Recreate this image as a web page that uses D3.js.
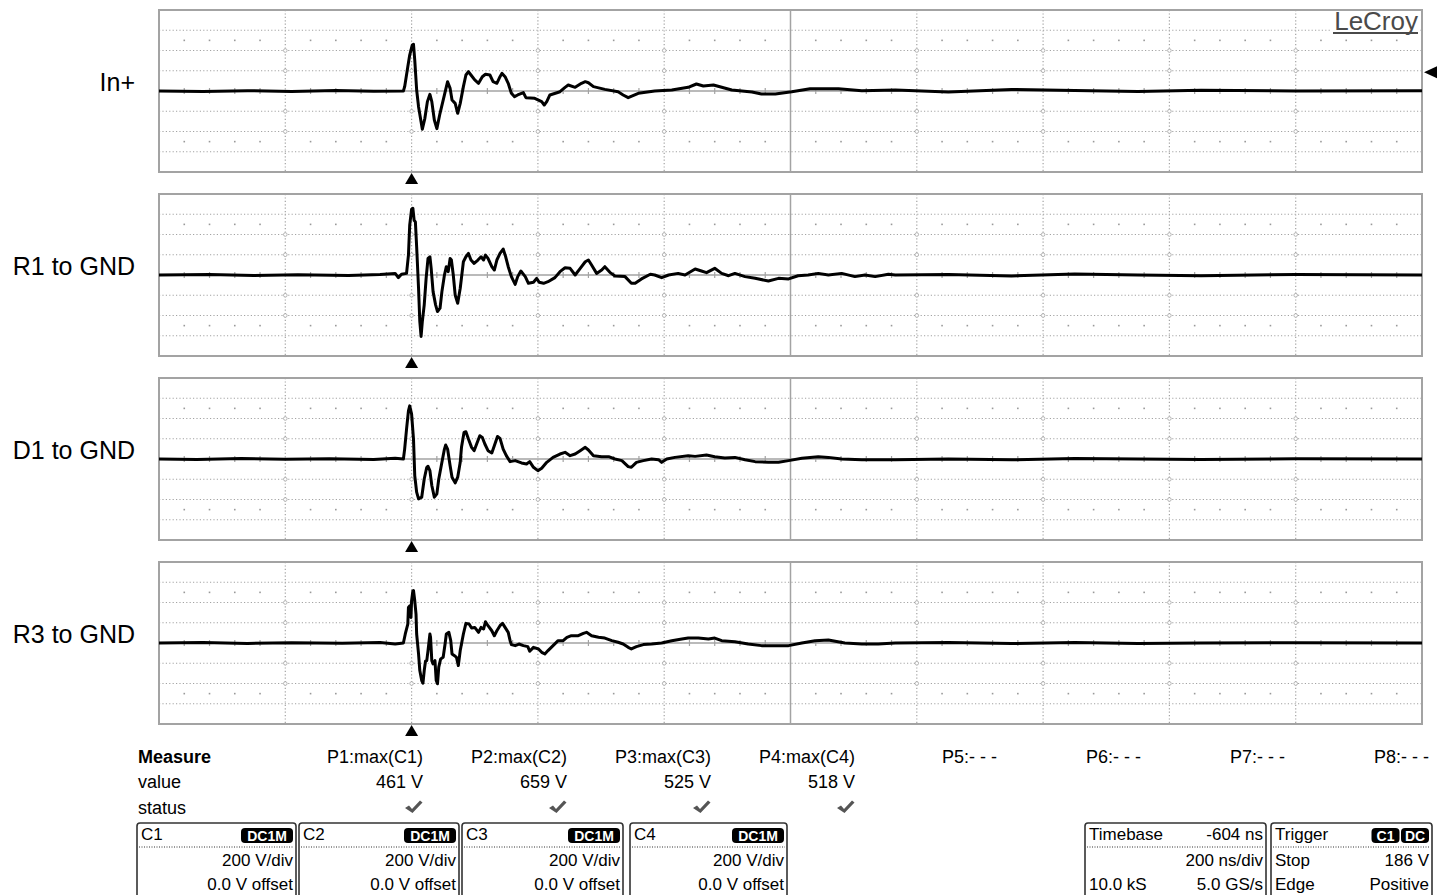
<!DOCTYPE html>
<html>
<head>
<meta charset="utf-8">
<script src="https://cdn.jsdelivr.net/npm/d3@7"></script>
<style>
  body { margin: 0; background: #fff; }
  svg { display: block; font-family: Arial, "Liberation Sans", sans-serif; }
</style>
</head>
<body>
<svg id="chart" width="1442" height="895"></svg>
<script>
// channel names shown at the left of each grid
const channelLabels = ['In+', 'R1 to GND', 'D1 to GND', 'R3 to GND']

// traces, [time ns (0 = trigger), volts]
const traceIn = [[-400,0],[-330,-5],[-260,3],[-190,-4],[-120,4],[-60,-3],[-13,0],[-11,43],[-6,240],[-3,355],[1,454],[3,461],[5,306],[8,10],[11,-155],[15,-303],[17,-378],[21,-270],[25,-105],[29,-33],[32,-105],[36,-286],[40,-372],[45,-220],[52,-39],[57,92],[61,26],[64,-89],[69,-122],[73,-220],[77,-122],[82,43],[86,158],[90,191],[94,158],[100,109],[106,76],[112,141],[117,165],[124,158],[129,92],[135,76],[140,141],[143,174],[148,141],[153,76],[158,-23],[163,-56],[168,-39],[177,-16],[181,-66],[195,-72],[206,-105],[210,-138],[214,-105],[219,-39],[235,-7],[243,36],[248,59],[259,36],[269,76],[275,92],[280,82],[288,43],[306,16],[327,-7],[335,-39],[343,-66],[359,-23],[385,0],[412,10],[438,36],[451,69],[462,49],[478,59],[507,10],[539,-10],[554,-30],[576,-30],[602,-7],[631,23],[676,23],[713,3],[766,10],[850,-10],[950,15],[1050,5],[1150,-5],[1250,8],[1400,0],[1600,3]]
const traceR1 = [[-400,0],[-320,4],[-250,-5],[-180,3],[-100,-4],[-50,5],[-26,16],[-21,-26],[-16,7],[-8,16],[-5,197],[-3,492],[0,650],[2,659],[4,541],[6,525],[8,279],[11,-131],[13,-459],[15,-607],[17,-459],[20,-295],[23,-33],[26,164],[29,180],[31,66],[34,-164],[38,-295],[41,-361],[45,-328],[48,-164],[52,0],[55,82],[58,33],[61,164],[63,148],[66,0],[69,-197],[73,-279],[77,-131],[82,131],[86,180],[90,213],[94,148],[99,115],[105,148],[110,180],[114,148],[117,197],[121,164],[127,82],[131,49],[135,148],[140,213],[145,256],[149,180],[153,82],[158,-16],[164,-92],[168,-16],[173,39],[180,-16],[185,-82],[193,-72],[198,-33],[202,-72],[209,-82],[216,-66],[227,-26],[235,33],[243,72],[251,66],[259,0],[267,66],[275,131],[280,148],[285,98],[293,16],[301,49],[306,82],[314,26],[322,-10],[338,-16],[348,-82],[354,-82],[364,-39],[378,7],[385,0],[396,-26],[407,0],[422,16],[433,0],[449,59],[459,39],[467,23],[480,66],[491,16],[502,-7],[512,16],[528,-16],[544,-33],[565,-59],[581,-33],[597,-39],[612,-7],[628,0],[644,16],[660,0],[681,16],[702,-16],[718,0],[734,-16],[755,7],[766,0],[850,5],[950,-10],[1050,10],[1150,0],[1250,-8],[1400,5],[1600,0]]
const traceD1 = [[-400,0],[-340,-4],[-270,4],[-200,-3],[-130,3],[-60,-4],[-26,7],[-13,0],[-11,98],[-8,295],[-5,476],[-3,525],[0,443],[3,197],[5,-164],[8,-328],[11,-394],[16,-377],[20,-197],[24,-82],[26,-72],[29,-115],[32,-262],[36,-377],[40,-344],[43,-197],[48,-33],[52,98],[54,138],[57,98],[61,-66],[64,-180],[69,-236],[73,-180],[77,-33],[79,115],[83,262],[86,269],[90,197],[95,115],[99,82],[103,148],[108,230],[112,213],[116,148],[121,82],[127,59],[131,131],[136,223],[140,203],[145,98],[150,33],[156,-26],[164,-16],[174,-39],[182,-49],[187,-26],[193,-82],[200,-115],[206,-92],[214,-33],[224,16],[235,49],[243,66],[251,33],[259,49],[267,82],[275,115],[280,89],[288,33],[301,23],[312,23],[322,0],[333,-16],[343,-75],[348,-82],[356,-33],[367,-16],[380,0],[391,-7],[396,-33],[404,0],[417,16],[438,33],[449,26],[467,39],[480,23],[496,10],[512,16],[528,-7],[544,-26],[565,-33],[581,-33],[597,-16],[618,7],[644,23],[660,16],[681,0],[713,-7],[766,-7],[850,0],[950,-8],[1050,5],[1150,0],[1250,-5],[1400,3],[1600,0]]
const traceR3 = [[-400,0],[-330,4],[-260,-4],[-190,3],[-110,-3],[-50,4],[-26,-10],[-13,0],[-10,89],[-6,187],[-5,351],[-3,367],[-1,253],[0,417],[2,515],[3,518],[5,417],[7,285],[8,89],[11,-108],[13,-272],[16,-371],[18,-397],[20,-272],[22,-180],[24,-174],[26,-75],[29,89],[30,56],[32,-174],[34,-207],[37,-174],[39,-371],[41,-403],[43,-239],[46,-157],[50,-141],[53,-10],[55,89],[59,105],[62,23],[64,-108],[68,-125],[71,-141],[74,-223],[77,-75],[82,89],[86,194],[91,187],[95,148],[100,154],[106,105],[110,154],[114,138],[117,210],[121,171],[127,121],[131,72],[135,121],[140,171],[144,194],[148,154],[153,105],[156,23],[158,-16],[164,-26],[170,-10],[177,-26],[184,-36],[187,-82],[193,-43],[201,-59],[206,-92],[211,-108],[216,-75],[224,-26],[232,23],[240,23],[246,56],[253,72],[264,72],[272,95],[277,105],[285,72],[296,56],[306,49],[317,23],[327,7],[335,-10],[343,-43],[348,-59],[356,-36],[367,-16],[380,-10],[396,0],[412,23],[428,39],[438,49],[454,49],[470,39],[480,49],[491,23],[512,13],[533,-10],[554,-26],[576,-26],[597,-26],[618,0],[639,23],[660,30],[686,0],[713,-10],[739,-10],[766,0],[850,5],[950,-5],[1050,5],[1150,-5],[1250,0],[1400,3],[1600,0]]
const traces = [traceIn, traceR1, traceD1, traceR3]
const triggerLevel = 186

// measurement strip
const measureNames = ['P1:max(C1)', 'P2:max(C2)', 'P3:max(C3)', 'P4:max(C4)', 'P5:- - -', 'P6:- - -', 'P7:- - -', 'P8:- - -']
const measureValues = ['461 V', '659 V', '525 V', '518 V', '', '', '', '']
const measureOk = [true, true, true, true, false, false, false, false]

// channel descriptor boxes
const chanNames = ['C1', 'C2', 'C3', 'C4']
const chanCoupling = ['DC1M', 'DC1M', 'DC1M', 'DC1M']
const chanScale = ['200 V/div', '200 V/div', '200 V/div', '200 V/div']
const chanOffset = ['0.0 V offset', '0.0 V offset', '0.0 V offset', '0.0 V offset']
const timebaseRows = [['Timebase', '-604 ns'], ['', '200 ns/div'], ['10.0 kS', '5.0 GS/s']]
const triggerRows = [['Trigger', ''], ['Stop', '186 V'], ['Edge', 'Positive']]

const svg = d3.select('#chart')
const left = 159, right = 1422, gridH = 162
const tops = [10, 194, 378, 562]
const gridColor = '#a3a3a3'

var x = d3.scaleLinear().domain([-400, 1600]).range([left, right])
const majorT = d3.range(-400, 1601, 200)
const minorT = d3.range(-400, 1601, 40).filter(t => t % 200 !== 0)
const majorV = d3.range(-800, 801, 200)

var line = d3.line()
  .x(d => x(d[0]))

traces.forEach((data, i) => {
  const top = tops[i]
  const y = d3.scaleLinear().domain([-800, 800]).range([top + gridH, top])
  const g = svg.append('g')

  // dotted division lines
  g.selectAll('.hl').data(majorV.filter(v => v !== 0 && Math.abs(v) !== 800)).join('line')
    .attr('x1', left).attr('x2', right)
    .attr('y1', d => y(d)).attr('y2', d => y(d))
    .attr('stroke', gridColor).attr('stroke-width', 1.2).attr('stroke-dasharray', '1.2,2.2')
  g.selectAll('.vl').data(majorT.filter(t => t !== 600 && t !== -400 && t !== 1600)).join('line')
    .attr('x1', d => x(d)).attr('x2', d => x(d))
    .attr('y1', top).attr('y2', top + gridH)
    .attr('stroke', gridColor).attr('stroke-width', 1.2).attr('stroke-dasharray', '1.2,2.2')

  // small rings where the division lines cross
  const rings = []
  majorT.filter(t => t !== 600 && t > -400 && t < 1600).forEach(t => {
    [-400, -200, 200, 400].forEach(v => rings.push([t, v]))
  })
  g.selectAll('.ring').data(rings).join('circle')
    .attr('cx', d => x(d[0])).attr('cy', d => y(d[1])).attr('r', 1.8)
    .attr('fill', '#fff').attr('stroke', gridColor).attr('stroke-width', 0.8)

  // minor dots
  const dots = []
  minorT.forEach(t => { dots.push([t, 500]); dots.push([t, -500]) })
  g.selectAll('.dot').data(dots).join('rect')
    .attr('x', d => x(d[0]) - 0.8).attr('y', d => y(d[1]) - 0.8)
    .attr('width', 1.6).attr('height', 1.6).attr('fill', '#999')

  // centre axes, minor ticks on the horizontal one
  g.append('line').attr('x1', left).attr('x2', right).attr('y1', y(0)).attr('y2', y(0))
    .attr('stroke', gridColor).attr('stroke-width', 1.5)
  g.append('line').attr('x1', x(600)).attr('x2', x(600)).attr('y1', top).attr('y2', top + gridH)
    .attr('stroke', gridColor).attr('stroke-width', 1.5)
  g.selectAll('.tk').data(minorT).join('line')
    .attr('x1', d => x(d)).attr('x2', d => x(d))
    .attr('y1', y(0) - 3).attr('y2', y(0) + 3)
    .attr('stroke', gridColor).attr('stroke-width', 1.2)

  g.append('rect').attr('x', left).attr('y', top).attr('width', right - left).attr('height', gridH)
    .attr('fill', 'none').attr('stroke', gridColor).attr('stroke-width', 2)

  // the trace
  line.y(d => y(d[1]))
  g.append('path').datum(data)
    .attr('d', line)
    .attr('fill', 'none').attr('stroke', '#000').attr('stroke-width', 3)
    .attr('stroke-linejoin', 'round')

  // trigger position marker
  g.append('path')
    .attr('d', `M${x(0)},${top + gridH + 1}l6.5,11h-13z`)
    .attr('fill', '#000')

  // trigger level marker on C1
  if (i === 0) {
    g.append('path')
      .attr('d', `M${right + 2},${y(triggerLevel)}l13,-6v12z`)
      .attr('fill', '#000')
  }

  svg.append('text')
    .attr('x', 135).attr('y', y(0))
    .attr('text-anchor', 'end')
    .attr('font-size', 25)
    .attr('fill', '#000')
    .text(channelLabels[i])
})

// LeCroy logo
svg.append('rect').attr('x', 1330).attr('y', 11).attr('width', 90).attr('height', 24).attr('fill', '#fff')
svg.append('text').attr('x', 1418).attr('y', 30)
  .attr('text-anchor', 'end')
  .attr('font-size', 26).attr('fill', '#4a4a4a')
  .text('LeCroy')
svg.append('line').attr('x1', 1333).attr('x2', 1418).attr('y1', 33).attr('y2', 33)
  .attr('stroke', '#4a4a4a').attr('stroke-width', 2)

// measure table
const colRight = i => i < 4 ? 423 + 144 * i : 997 + 144 * (i - 4)
svg.append('text').attr('x', 138).attr('y', 763).attr('font-size', 18).attr('font-weight', 'bold').text('Measure')
svg.append('text').attr('x', 138).attr('y', 788).attr('font-size', 18).text('value')
svg.append('text').attr('x', 138).attr('y', 814).attr('font-size', 18).text('status')
svg.selectAll('.mname').data(measureNames).join('text')
  .attr('x', (d, i) => colRight(i)).attr('y', 763)
  .attr('text-anchor', 'end').attr('font-size', 18).text(d => d)
svg.selectAll('.mval').data(measureValues).join('text')
  .attr('x', (d, i) => colRight(i)).attr('y', 788)
  .attr('text-anchor', 'end').attr('font-size', 18).text(d => d)
svg.selectAll('.mok').data(measureOk.filter(d => d)).join('path')
  .attr('d', (d, i) => {
    const cx = colRight(i) - 11
    return `M${cx - 7},${808}l4,-2.5l3,3.5l8,-8.5l2.5,2l-10,10.5z`
  })
  .attr('fill', '#555')

// descriptor boxes
function box (x0, x1, rows, badges) {
  const g = svg.append('g')
  g.append('rect').attr('x', x0).attr('y', 823).attr('width', x1 - x0).attr('height', 90)
    .attr('rx', 3).attr('fill', '#fff').attr('stroke', '#333').attr('stroke-width', 1.6)
  g.append('line').attr('x1', x0 + 2).attr('x2', x1 - 2).attr('y1', 847).attr('y2', 847)
    .attr('stroke', '#333').attr('stroke-dasharray', '1,1.5')
  const ys = [840, 866, 890]
  rows.forEach((r, k) => {
    if (r[0]) g.append('text').attr('x', x0 + 4).attr('y', ys[k]).attr('font-size', 17).text(r[0])
    if (r[1]) g.append('text').attr('x', x1 - 3).attr('y', ys[k]).attr('text-anchor', 'end').attr('font-size', 17).text(r[1])
  })
  let bx = x1 - 3
  badges.slice().reverse().forEach(b => {
    const w = b.length * 12 + 4
    g.append('rect').attr('x', bx - w).attr('y', 828).attr('width', w).attr('height', 15)
      .attr('rx', 4).attr('fill', '#000')
    g.append('text').attr('x', bx - w / 2).attr('y', 841).attr('text-anchor', 'middle')
      .attr('font-size', 14).attr('font-weight', 'bold').attr('fill', '#fff').text(b)
    bx -= w + 1.5
  })
}
const chanBoxX = [[137, 296], [299, 459], [462, 623], [630, 787]]
chanNames.forEach((c, i) => {
  box(chanBoxX[i][0], chanBoxX[i][1], [[c, ''], ['', chanScale[i]], ['', chanOffset[i]]], [chanCoupling[i]])
})
box(1085, 1266, timebaseRows, [])
box(1271, 1432, triggerRows, ['C1', 'DC'])
</script>
</body>
</html>
